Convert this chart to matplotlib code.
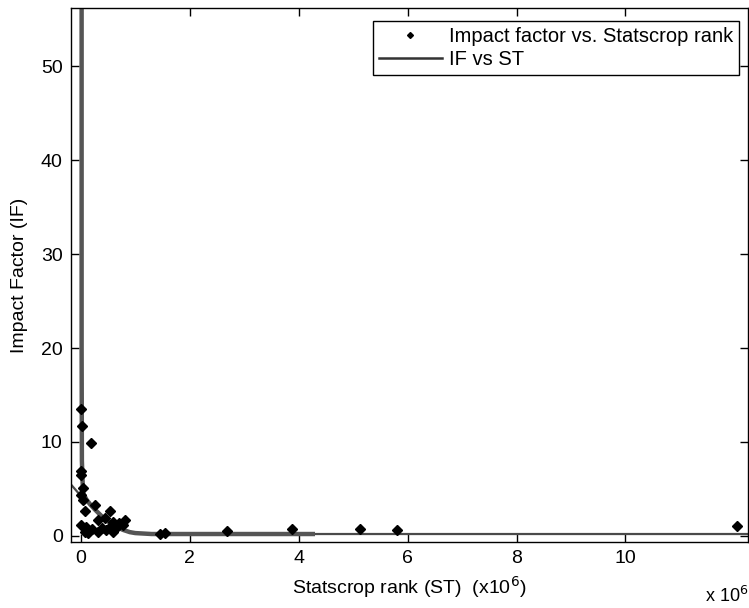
import matplotlib
matplotlib.use("Agg")
import matplotlib.pyplot as plt
from matplotlib.ticker import FixedLocator, MultipleLocator

plt.rcParams['font.family'] = ['Liberation Sans', 'DejaVu Sans']

# Statscrop rank in millions, impact factor
st = [0.01, 0.02, 0.18, 0.01, 0.01, 0.04, 0.01, 0.04, 0.26, 0.07, 0.53, 0.32,
      0.44, 0.81, 0.59, 0.71, 0.0, 0.10, 0.56, 0.78, 0.20, 0.38, 0.47, 0.65,
      0.07, 0.32, 0.59, 0.13, 1.45, 1.54, 2.68, 3.88, 5.13, 5.80, 12.05]
impact = [13.5, 11.7, 9.9, 6.9, 6.5, 5.1, 4.4, 3.8, 3.3, 2.6, 2.6, 1.7,
          1.9, 1.7, 1.5, 1.35, 1.2, 1.0, 1.05, 1.2, 0.7, 0.8, 0.65, 0.8,
          0.45, 0.45, 0.45, 0.3, 0.15, 0.35, 0.5, 0.75, 0.75, 0.64, 1.06]
xticks = [0, 2, 4, 6, 8, 10]

# fitted curve IF vs ST
fit_st = [0.015, 0.015, 0.02, 0.04, 0.10, 0.18, 0.26, 0.40, 0.53, 0.65, 0.77, 0.90, 1.0, 1.3, 4.3]
fit_if = [57.0, 20.0, 8.0, 4.6, 3.9, 3.3, 2.8, 2.0, 1.4, 1.0, 0.65, 0.4, 0.3, 0.2, 0.2]
thin_st = [-0.2, 0.04, 0.26, 0.53, 0.77, 1.0, 1.3, 12.3]
thin_if = [5.6, 4.0, 2.8, 1.4, 0.65, 0.3, 0.2, 0.2]

fig = plt.figure(figsize=(7.49, 6.08), dpi=100)
ax = fig.add_axes([71/749, 66/608, 677/749, 534/608])

ax.plot(thin_st, thin_if, color='#4a4a4a', lw=1.6, zorder=2)
ax.plot(fit_st, fit_if, color='#555555', lw=3.2, solid_capstyle='butt', zorder=2)
ax.plot(st, impact, linestyle='none', marker='D', ms=5, color='black', zorder=3)

# legend proxies
h1, = ax.plot([], [], linestyle='none', marker='D', ms=3, color='black')
h2, = ax.plot([], [], color='#333333', lw=1.8)
leg = ax.legend([h1, h2], ['Impact factor vs. Statscrop rank', 'IF vs ST'],
                loc='upper right', bbox_to_anchor=(0.9867, 0.9757), borderaxespad=0,
                fancybox=False, framealpha=1, edgecolor='black', fontsize=14.5,
                handlelength=3.1, handletextpad=0.35, borderpad=0.3, labelspacing=0.2)
leg.get_frame().set_linewidth(1.0)

ax.set_xlim(-0.18, 12.25)
ax.set_ylim(-0.65, 56.2)
ax.xaxis.set_major_locator(FixedLocator(xticks))
ax.yaxis.set_major_locator(MultipleLocator(10))
ax.tick_params(direction='in', top=True, right=True, length=6, width=1,
               labelsize=14, pad=6)
for s in ax.spines.values():
    s.set_linewidth(1.0)

ax.set_xlabel(r'Statscrop rank (ST)  (x10$^{6}$)', fontsize=14, labelpad=5)
ax.set_ylabel('Impact Factor (IF)', fontsize=14, labelpad=9)
fig.text(748/749, 1 - 596/608, r'x 10$^{6}$', fontsize=13, va='center', ha='right')

fig.savefig('out.png', dpi=100)
